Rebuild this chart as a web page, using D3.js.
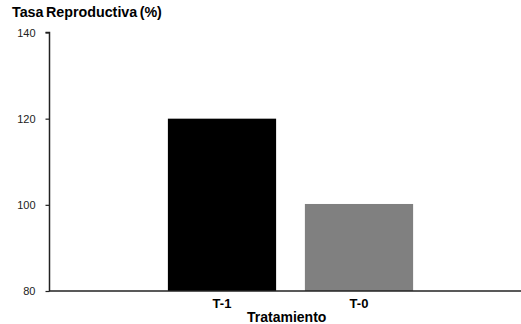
<!DOCTYPE html>
<html><head><meta charset="utf-8">
<script src="https://cdn.jsdelivr.net/npm/d3@7"></script>
<style>body{margin:0;background:#fff}svg{display:block}text{font-family:"Liberation Sans",Arial,sans-serif}</style>
</head><body><svg id="c" width="521" height="324"></svg>
<script>
const categories = ["T-1", "T-0"];
const values = [120, 100.2];
const colors = ["#000000", "#808080"];
const yTicks = [80, 100, 120, 140];
const yTitle = "Tasa Reproductiva (%)";
const xTitle = "Tratamiento";

const svg = d3.select("#c");
const y = d3.scaleLinear().domain([80, 140]).range([291, 32.5]);
const x = d3.scaleBand().domain(categories).range([153.5, 427.5]).paddingInner(0.21).paddingOuter(0.105);

svg.selectAll("rect.bar").data(values).enter().append("rect")
  .attr("class", "bar")
  .attr("x", (d, i) => x(categories[i]))
  .attr("width", x.bandwidth())
  .attr("y", d => y(d))
  .attr("height", d => y(80) - y(d))
  .attr("fill", (d, i) => colors[i]);

const yAxis = svg.append("g").attr("transform", "translate(49.5,0)")
  .call(d3.axisLeft(y).tickValues(yTicks).tickSize(4).tickPadding(10).tickFormat(d3.format("d")));
yAxis.select(".domain").attr("stroke", "#222").attr("stroke-width", 1.5).attr("d", `M-4,${y(140)}H0V${y(80)}`);
yAxis.selectAll(".tick line").attr("stroke", "#222").attr("stroke-width", 1.2);
yAxis.selectAll(".tick text").attr("font-size", 11).attr("fill", "#222").attr("dy", "0.35em");

const xAxis = svg.append("g").attr("transform", `translate(0,${y(80)})`)
  .call(d3.axisBottom(x).tickSize(0).tickPadding(8));
xAxis.select(".domain").attr("stroke", "#222").attr("stroke-width", 1.5).attr("d", "M49,0H521");
xAxis.selectAll(".tick text").attr("font-size", 13).attr("font-weight", "bold").attr("fill", "#000");

svg.append("text").attr("x", 12).attr("y", 17.3).attr("font-size", 14.3).attr("font-weight", "bold")
  .attr("word-spacing", "-1.6").text(yTitle);
svg.append("text").attr("x", 286.7).attr("y", 321.5).attr("text-anchor", "middle")
  .attr("font-size", 14).attr("font-weight", "bold").text(xTitle);
</script></body></html>
